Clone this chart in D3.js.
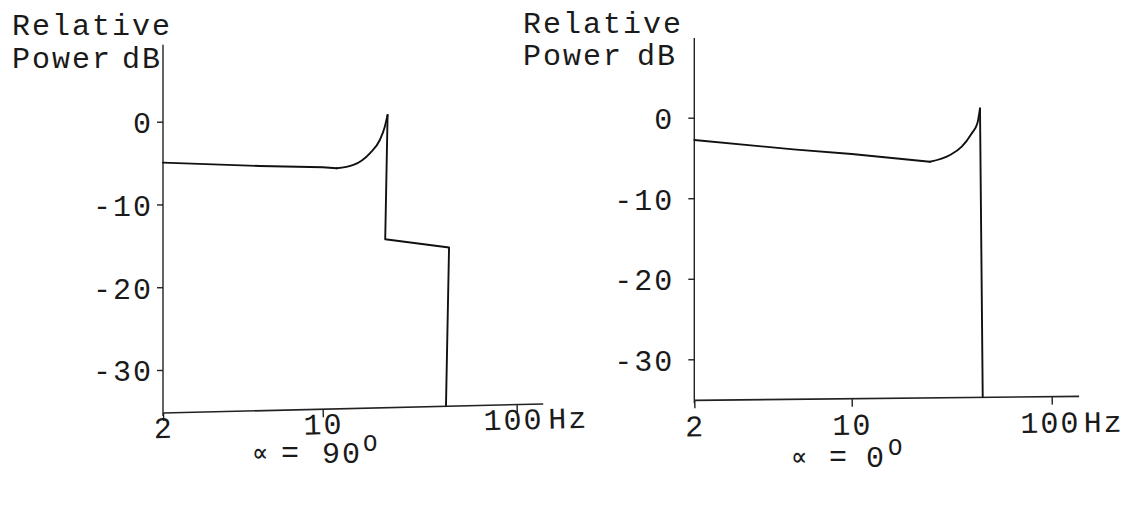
<!DOCTYPE html>
<html>
<head>
<meta charset="utf-8">
<script src="https://cdn.jsdelivr.net/npm/d3@7"></script>
<style>
  html, body { margin: 0; padding: 0; background: #fff; }
  svg { display: block; }
  text { font-family: "Liberation Mono", "DejaVu Sans Mono", monospace; fill: #1a1a1a; }
</style>
</head>
<body>
<svg id="chart" width="1138" height="506"></svg>
<script>
// Frequency axis ticks (Hz) and power axis ticks (dB)
const freqTicks = [2, 10, 100];
const dbTicks = [0, -10, -20, -30];

// Response for alpha = 90 degrees
const leftFreq = [2, 5.3, 10, 11.8, 14.4, 17.5, 19.7, 20.9, 21.6, 21.0, 44.8, 43.2];
const leftDb   = [-4.95, -5.35, -5.5, -5.63, -5.23, -3.82, -2.21, -0.6, 0.81, -14.2, -15.2, -34.3];
const leftHump = [3, 8];   // indices of the resonance rise (drawn smooth)

// Response for alpha = 0 degrees
const rightFreq = [2, 5.5, 10, 24.6, 31.0, 35.5, 39.8, 42.5, 43.8, 45.2];
const rightDb   = [-2.77, -3.93, -4.5, -5.47, -4.63, -3.6, -1.95, -0.7, 1.16, -34.66];
const rightHump = [3, 8];

// Axis extents in data units
const leftDbTop = 9.3, leftFloor = [-35.2, -34.1];
const rightDbTop = 9.9, rightFloor = [-35.1, -34.6];
const freqEnd = 137;

const svg = d3.select("#chart");
const FS = 30, LS = 2;

function panel(cfg) {
  const x = d3.scaleLog().domain(freqTicks).range(cfg.xr);
  const y = d3.scaleLinear().domain([-30, 0]).range(cfg.yr);
  const g = svg.append("g");
  const x0 = x(freqTicks[0]);

  // vertical axis
  const yAxis = d3.axisLeft(y).tickValues(dbTicks).tickSize(6).tickSizeOuter(0)
    .tickPadding(cfg.yPad).tickFormat(d => d === 0 ? "0" : "-" + Math.abs(d));
  const ya = g.append("g").attr("transform", `translate(${x0},0)`).call(yAxis);
  ya.select(".domain").remove();
  ya.selectAll(".tick line").attr("stroke", "#222").attr("stroke-width", 1.4);
  ya.selectAll(".tick text").attr("font-size", FS).attr("letter-spacing", LS)
    .attr("font-family", "Liberation Mono, monospace").attr("fill", "#1a1a1a")
    .attr("dy", "0.36em");
  g.append("line").attr("x1", x0).attr("x2", x0)
    .attr("y1", y(cfg.dbTop)).attr("y2", y(cfg.floor[0]) + 3)
    .attr("stroke", "#222").attr("stroke-width", 1.4);

  // horizontal axis (slightly tilted baseline)
  const xEnd = x(freqEnd);
  const fy0 = y(cfg.floor[0]), fy1 = y(cfg.floor[1]);
  const ang = Math.atan2(fy1 - fy0, xEnd - x0) * 180 / Math.PI;
  const len = Math.hypot(xEnd - x0, fy1 - fy0);
  const xl = d3.scaleLog().domain(freqTicks).range(cfg.xr.map(v => v - x0));
  const xAxis = d3.axisBottom(xl).tickValues(freqTicks).tickSize(8).tickSizeOuter(0)
    .tickFormat(d3.format("d"));
  const xa = g.append("g").attr("transform", `translate(${x0},${fy0}) rotate(${ang})`).call(xAxis);
  xa.select(".domain").remove();
  xa.append("line").attr("x1", 0).attr("x2", len).attr("y1", 0).attr("y2", 0)
    .attr("stroke", "#222").attr("stroke-width", 1.6);
  xa.selectAll(".tick line").attr("stroke", "#222").attr("stroke-width", 1.4);
  xa.selectAll(".tick text").attr("font-size", FS).attr("letter-spacing", LS)
    .attr("font-family", "Liberation Mono, monospace").attr("fill", "#1a1a1a")
    .attr("y", cfg.xLabY).attr("dy", 0)
    .attr("dx", d => d === 100 ? cfg.hundredDx : 0);
  xa.append("text").attr("x", cfg.hzX).attr("y", cfg.xLabY).attr("font-size", FS)
    .attr("text-anchor", "start").attr("letter-spacing", LS).text("Hz");

  // response curve
  const pts = cfg.f.map((f, i) => [x(f), y(cfg.db[i])]);
  const lin = d3.line();
  const smooth = d3.line().curve(d3.curveMonotoneX);
  const [h0, h1] = cfg.hump;
  const stroke = p => p.attr("fill", "none").attr("stroke", "#111")
    .attr("stroke-width", 1.9).attr("stroke-linejoin", "round").attr("stroke-linecap", "round");
  g.append("path").attr("d", lin(pts.slice(0, h0 + 1))).call(stroke);
  g.append("path").attr("d", smooth(pts.slice(h0, h1 + 1))).call(stroke);
  g.append("path").attr("d", lin(pts.slice(h1))).call(stroke);

  // axis title
  const t = g.append("text").attr("font-size", FS).attr("letter-spacing", LS);
  t.append("tspan").attr("x", cfg.title[0]).attr("y", cfg.title[1]).text("Relative");
  t.append("tspan").attr("x", cfg.title[0]).attr("y", cfg.title[2]).text("Power");
  t.append("tspan").attr("x", cfg.title[3]).attr("y", cfg.title[2]).text("dB");

  // angle caption
  const c = cfg.cap;
  g.append("text").attr("x", c[0]).attr("y", c[4]).attr("font-size", 27)
    .attr("font-family", "DejaVu Sans, sans-serif").text("\u221D");
  g.append("text").attr("x", c[1]).attr("y", c[4]).attr("font-size", FS).text("=");
  g.append("text").attr("x", c[2]).attr("y", c[4] + 1).attr("font-size", FS)
    .attr("letter-spacing", LS).text(cfg.angle);
  g.append("text").attr("x", c[3]).attr("y", c[4] - 11).attr("font-size", 24).text("O");
}

panel({
  xr: [163, 322.7, 516.7], yr: [370, 121.7], f: leftFreq, db: leftDb, hump: leftHump,
  dbTop: leftDbTop, floor: leftFloor, yPad: 4, xLabY: 25, hundredDx: -4, hzX: 385,
  title: [12, 35, 68, 122], cap: [252, 281, 322, 363, 462], angle: "90"
});
panel({
  xr: [694.3, 851.7, 1051.7], yr: [359.3, 117.7], f: rightFreq, db: rightDb, hump: rightHump,
  dbTop: rightDbTop, floor: rightFloor, yPad: 14, xLabY: 36, hundredDx: -2, hzX: 389,
  title: [523, 33, 65, 637], cap: [791, 829, 866, 888, 466], angle: "0"
});
</script>
</body>
</html>
